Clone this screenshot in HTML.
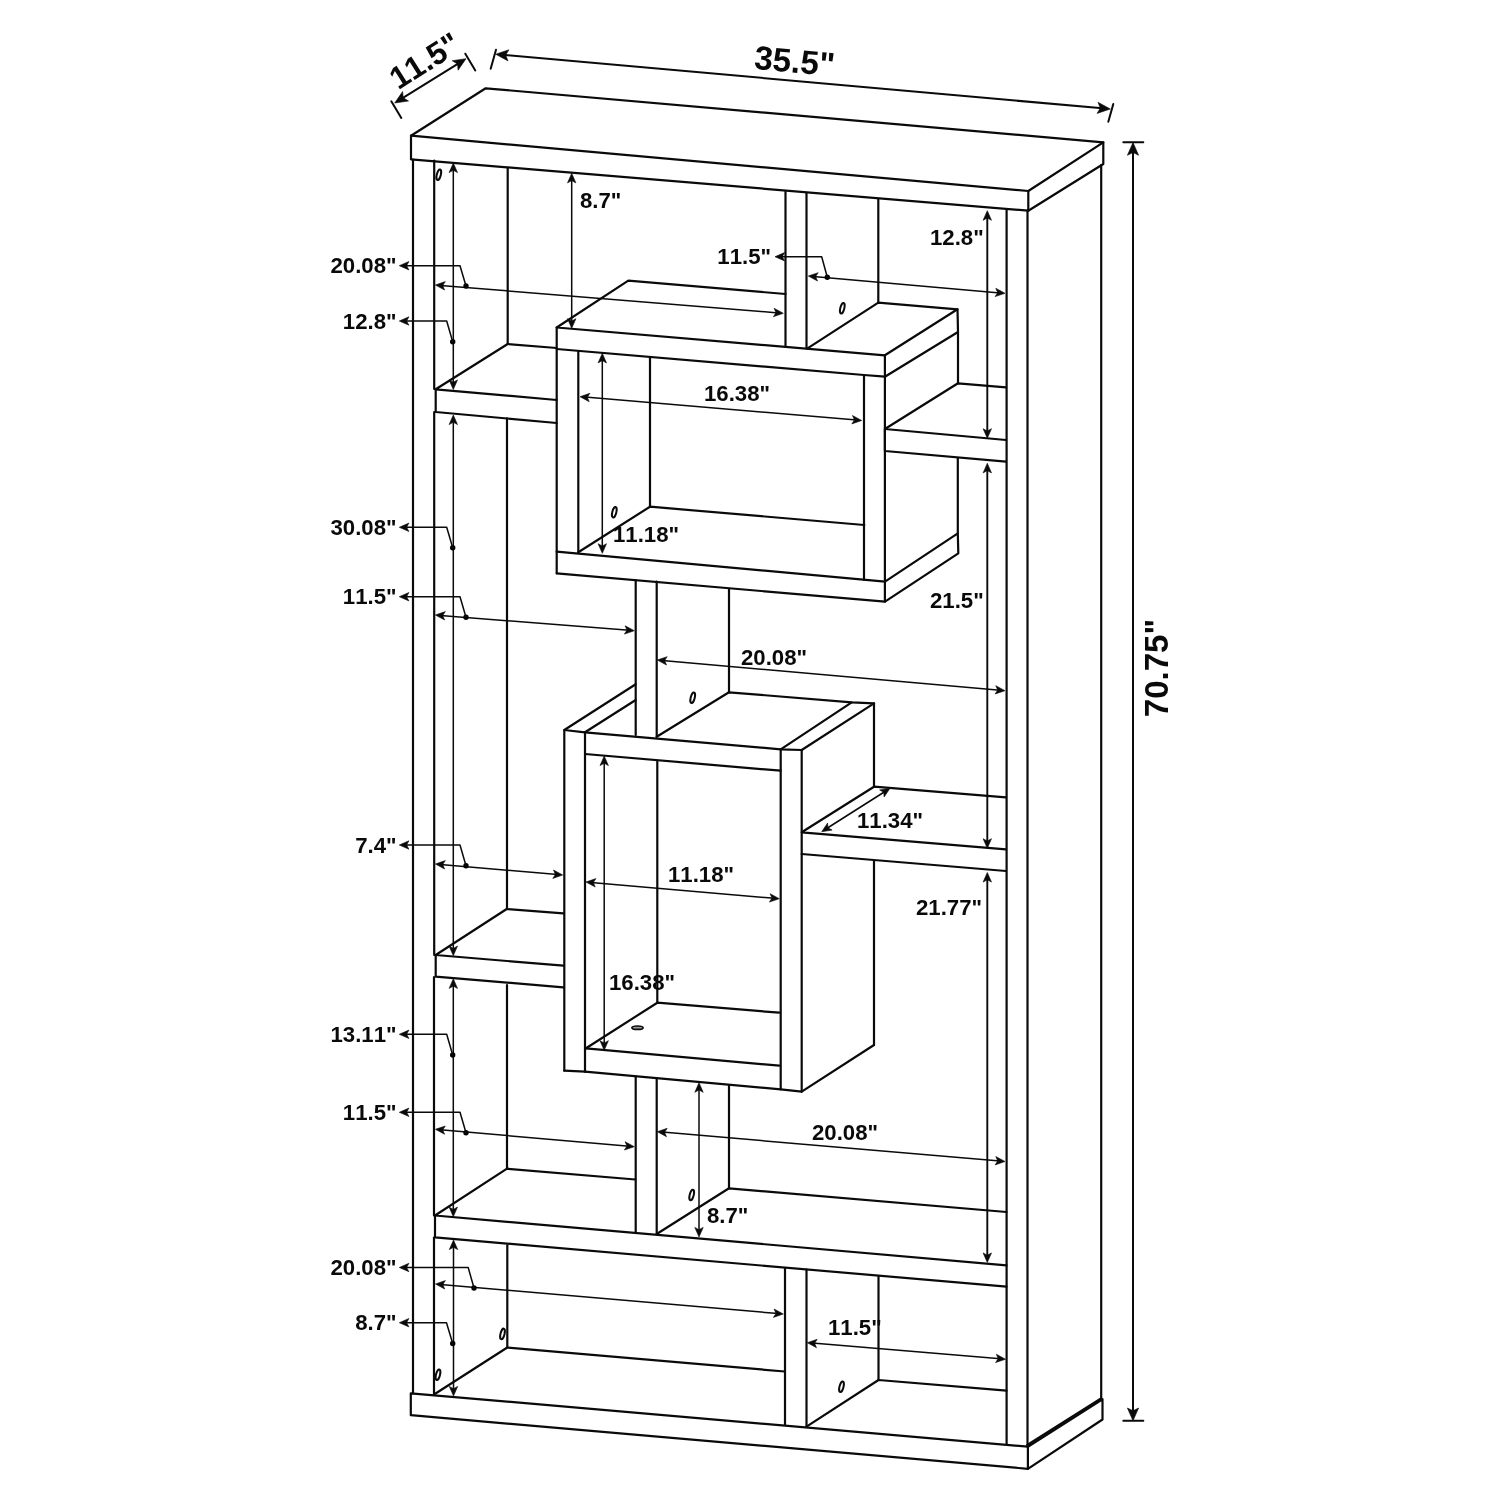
<!DOCTYPE html>
<html lang="en">
<head>
<meta charset="utf-8">
<title>Bookcase dimensions</title>
<style>
html,body{margin:0;padding:0;background:#fff;}
body{width:1500px;height:1500px;overflow:hidden;}
svg{display:block;opacity:0.999;will-change:transform;}
svg line,svg path,svg ellipse{stroke:#0a0a0a;fill:none;stroke-linecap:round;stroke-linejoin:round;}
svg polygon{fill:#0a0a0a;stroke:#0a0a0a;stroke-width:0.6;stroke-linejoin:miter;}
svg text{font-kerning:none;font-family:"Liberation Sans",Arial,Helvetica,sans-serif;font-weight:700;fill:#0a0a0a;}
</style>
</head>
<body>
<svg width="1500" height="1500" viewBox="0 0 1500 1500">
<rect x="0" y="0" width="1500" height="1500" fill="#fff" stroke="none"/>
<path d="M411 135.7 L485.7 88.3 L1103.3 142.3 L1028.3 191 Z" stroke-width="2.2"/>
<path d="M411 135.7 L411 159.3 L1028.3 210.7 L1028.3 191" stroke-width="2.2"/>
<path d="M1028.3 210.7 L1103.3 164 L1103.3 142.3" stroke-width="2.2"/>
<line x1="413" y1="159.5" x2="413" y2="1393.3" stroke-width="2.2"/>
<line x1="434.2" y1="160.5" x2="434.2" y2="389" stroke-width="2.2"/>
<line x1="434.2" y1="412" x2="434.2" y2="955" stroke-width="2.2"/>
<line x1="434" y1="977" x2="434" y2="1215.5" stroke-width="2.2"/>
<line x1="434" y1="1237.5" x2="434" y2="1394" stroke-width="2.2"/>
<line x1="1006.6" y1="209" x2="1006.6" y2="1444.5" stroke-width="2.2"/>
<line x1="1027.5" y1="210.7" x2="1027.5" y2="1446.7" stroke-width="2.2"/>
<line x1="1101.2" y1="165" x2="1101.2" y2="1400" stroke-width="2.2"/>
<path d="M410.8 1393.3 L1027.9 1446.7 L1102.5 1399.2 L1102.5 1419.5 L1027.9 1468.8 L410.8 1415.2 Z" stroke-width="2.2"/>
<line x1="1027.9" y1="1446.7" x2="1027.9" y2="1468.8" stroke-width="2.2"/>
<line x1="1027.3" y1="1445" x2="1101" y2="1398.4" stroke-width="2.2"/>
<line x1="507.7" y1="167.5" x2="507.7" y2="344" stroke-width="2.2"/>
<line x1="785.5" y1="191.7" x2="785.5" y2="346.7" stroke-width="2.2"/>
<line x1="806.5" y1="193.5" x2="806.5" y2="348.3" stroke-width="2.2"/>
<line x1="878.3" y1="199.5" x2="878.3" y2="302.7" stroke-width="2.2"/>
<path d="M507.7 344 L435.7 389.3 L556.7 400" stroke-width="2.2"/>
<path d="M435.7 389.3 L435.7 412 L556.7 423" stroke-width="2.2"/>
<line x1="507.7" y1="344" x2="556.7" y2="348" stroke-width="2.2"/>
<path d="M785.5 294 L628.3 280.7 L556.7 327.5 L884.9 355.3" stroke-width="2.2"/>
<line x1="556.7" y1="327.5" x2="556.7" y2="573.3" stroke-width="2.2"/>
<path d="M556.7 349 L864 375 L884.9 376.7" stroke-width="2.2"/>
<line x1="884.9" y1="355.3" x2="884.9" y2="601.7" stroke-width="2.2"/>
<line x1="864" y1="375" x2="864" y2="579.8" stroke-width="2.2"/>
<line x1="578.3" y1="351.7" x2="578.3" y2="552.3" stroke-width="2.2"/>
<line x1="650" y1="358.3" x2="650" y2="506.7" stroke-width="2.2"/>
<path d="M578.3 552.3 L650 506.7 L864.3 525" stroke-width="2.2"/>
<path d="M556.7 551.7 L885 581.7 L957.8 533.3 L958.3 553.3 L885 601.7 L556.7 573.3" stroke-width="2.2"/>
<path d="M807.5 348.3 L878.3 302.7 L957.5 309.3 L884.9 355.3" stroke-width="2.2"/>
<path d="M957.5 309.3 L958 332 L884.9 376.7" stroke-width="2.2"/>
<line x1="958" y1="332" x2="958" y2="383.3" stroke-width="2.2"/>
<line x1="957.8" y1="458.3" x2="957.8" y2="533.3" stroke-width="2.2"/>
<path d="M1006 387.3 L958 383.3 L884.9 429 L1006 440" stroke-width="2.2"/>
<path d="M884.9 429 L884.9 451 L1006 461.7" stroke-width="2.2"/>
<line x1="635.7" y1="580" x2="635.7" y2="735" stroke-width="2.2"/>
<line x1="656.7" y1="581.7" x2="656.7" y2="736.7" stroke-width="2.2"/>
<line x1="729" y1="589" x2="729" y2="692.3" stroke-width="2.2"/>
<path d="M635.7 684.3 L564.3 730 L585 732.3 L635.7 700" stroke-width="2.2"/>
<path d="M585 732.3 L780.7 749.3 L801.7 750" stroke-width="2.2"/>
<line x1="585" y1="754" x2="780.7" y2="770.7" stroke-width="2.2"/>
<line x1="564.3" y1="730" x2="564.3" y2="1070.7" stroke-width="2.2"/>
<line x1="585" y1="732.3" x2="585" y2="1071.7" stroke-width="2.2"/>
<line x1="564.3" y1="1070.7" x2="585" y2="1071.7" stroke-width="2.2"/>
<path d="M656.7 736.7 L729 692.3 L851.7 702.3 L874 703.3 L801.7 750" stroke-width="2.2"/>
<line x1="780.7" y1="749.3" x2="851.7" y2="702.3" stroke-width="2.2"/>
<line x1="780.7" y1="749.3" x2="780.7" y2="1089.3" stroke-width="2.2"/>
<line x1="801.7" y1="750" x2="801.7" y2="1091.7" stroke-width="2.2"/>
<line x1="874" y1="703.3" x2="874" y2="786.7" stroke-width="2.2"/>
<line x1="874" y1="861" x2="874" y2="1045" stroke-width="2.2"/>
<line x1="657.3" y1="761.7" x2="657.3" y2="1002.7" stroke-width="2.2"/>
<path d="M586 1048.3 L657.3 1002.7 L779.3 1012.7" stroke-width="2.2"/>
<line x1="586" y1="1048.3" x2="779.3" y2="1065.7" stroke-width="2.2"/>
<path d="M585 1071.7 L780.7 1089.3 L801.7 1091.7 L874 1045" stroke-width="2.2"/>
<ellipse cx="637.5" cy="1027.7" rx="5.6" ry="1.7" stroke-width="1.7" style="fill:#9a9a9a"/>
<path d="M1006 797.3 L874 786.7 L801.7 832.3 L1006 849.3" stroke-width="2.2"/>
<line x1="801.7" y1="854" x2="1006" y2="871" stroke-width="2.2"/>
<line x1="507" y1="418.3" x2="507" y2="909" stroke-width="2.2"/>
<path d="M563.3 913.3 L506.7 909 L435.7 955 L563.3 965.7" stroke-width="2.2"/>
<path d="M435.7 955 L435.7 976.7 L563.3 987.3" stroke-width="2.2"/>
<line x1="507" y1="985" x2="507" y2="1169" stroke-width="2.2"/>
<line x1="635.7" y1="1076.7" x2="635.7" y2="1232.3" stroke-width="2.2"/>
<line x1="656.7" y1="1078.3" x2="656.7" y2="1234" stroke-width="2.2"/>
<line x1="729" y1="1085" x2="729" y2="1188.3" stroke-width="2.2"/>
<path d="M635.3 1179.5 L507 1168.7 L435 1215.5 L1006.5 1265.3" stroke-width="2.2"/>
<path d="M435 1215.5 L435 1237.3 L1006.5 1286.7" stroke-width="2.2"/>
<path d="M656.7 1234 L729 1188.3 L1006.5 1212" stroke-width="2.2"/>
<line x1="507.3" y1="1245.3" x2="507.3" y2="1347.5" stroke-width="2.2"/>
<path d="M434.8 1394 L507.3 1347.5 L784.7 1371.5" stroke-width="2.2"/>
<line x1="785" y1="1268" x2="785" y2="1424.8" stroke-width="2.2"/>
<line x1="806.5" y1="1269.5" x2="806.5" y2="1426.7" stroke-width="2.2"/>
<line x1="878.5" y1="1276" x2="878.5" y2="1380" stroke-width="2.2"/>
<path d="M806.5 1426.7 L878.5 1380 L1006.5 1390.7" stroke-width="2.2"/>
<line x1="398.9" y1="100.4" x2="461.8" y2="61.3" stroke-width="2"/>
<polygon points="466,58.7 458.1,70.2 457.5,64 452.2,60.7"/>
<polygon points="394.7,103 402.6,91.5 403.2,97.7 408.5,101"/>
<line x1="391.3" y1="101.3" x2="401.3" y2="118" stroke-width="2"/>
<line x1="465.3" y1="53.7" x2="475.3" y2="70.4" stroke-width="2"/>
<text x="430.5" y="70" font-size="31.5" text-anchor="middle" transform="rotate(-32.3 430.5 70)">11.5"</text>
<line x1="500.7" y1="54.6" x2="1105.3" y2="108.6" stroke-width="2"/>
<polygon points="1110.3,109 1097.1,113.4 1100.3,108.1 1098,102.3"/>
<polygon points="495.7,54.2 508.9,49.8 505.7,55.1 508,60.9"/>
<line x1="496" y1="49.7" x2="490.7" y2="68.7" stroke-width="2"/>
<line x1="1113.3" y1="104" x2="1108.3" y2="121.7" stroke-width="2"/>
<text x="793.5" y="72.5" font-size="33.3" text-anchor="middle" transform="rotate(5.3 793.5 72.5)">35.5"</text>
<line x1="1133" y1="147.5" x2="1133" y2="1415.8" stroke-width="2"/>
<polygon points="1133,1420.8 1127.4,1408 1133,1410.8 1138.6,1408"/>
<polygon points="1133,142.5 1138.6,155.3 1133,152.5 1127.4,155.3"/>
<line x1="1123.3" y1="142.3" x2="1143.3" y2="142.3" stroke-width="2"/>
<line x1="1123.3" y1="1420.8" x2="1143.3" y2="1420.8" stroke-width="2"/>
<text x="1168" y="668" font-size="33" text-anchor="middle" transform="rotate(-90 1168 668)">70.75"</text>
<line x1="453.3" y1="168" x2="453.3" y2="384.5" stroke-width="1.5"/>
<polygon points="453.3,389.5 449.1,379.9 453.3,382.2 457.5,379.9"/>
<polygon points="453.3,163 457.5,172.6 453.3,170.3 449.1,172.6"/>
<line x1="453.3" y1="420" x2="453.3" y2="950.7" stroke-width="1.5"/>
<polygon points="453.3,955.7 449.1,946.1 453.3,948.4 457.5,946.1"/>
<polygon points="453.3,415 457.5,424.6 453.3,422.3 449.1,424.6"/>
<line x1="453.3" y1="983.8" x2="453.3" y2="1211.7" stroke-width="1.5"/>
<polygon points="453.3,1216.7 449.1,1207.1 453.3,1209.4 457.5,1207.1"/>
<polygon points="453.3,978.8 457.5,988.4 453.3,986.1 449.1,988.4"/>
<line x1="453.5" y1="1245" x2="453.5" y2="1391" stroke-width="1.5"/>
<polygon points="453.5,1396 449.3,1386.4 453.5,1388.7 457.7,1386.4"/>
<polygon points="453.5,1240 457.7,1249.6 453.5,1247.3 449.3,1249.6"/>
<line x1="571.7" y1="178.3" x2="571.7" y2="323.3" stroke-width="1.5"/>
<polygon points="571.7,328.3 567.5,318.7 571.7,321 575.9,318.7"/>
<polygon points="571.7,173.3 575.9,182.9 571.7,180.6 567.5,182.9"/>
<text x="580" y="208" font-size="22.2" text-anchor="start">8.7"</text>
<line x1="440.4" y1="285.4" x2="778.3" y2="312.9" stroke-width="1.5"/>
<polygon points="783.3,313.3 773.4,316.7 776,312.7 774.1,308.3"/>
<polygon points="435.4,285 445.3,281.6 442.7,285.6 444.6,290"/>
<circle cx="466" cy="286" r="2.7" fill="#000" stroke="none"/>
<path d="M466 286 L460 265.7 L404.3 265.7" stroke-width="1.5"/>
<polygon points="399.3,265.7 408.9,261.5 406.6,265.7 408.9,269.9"/>
<text x="396.5" y="273" font-size="22.2" text-anchor="end">20.08"</text>
<circle cx="452.7" cy="341.7" r="2.7" fill="#000" stroke="none"/>
<path d="M452.7 341.7 L446.7 321 L404.3 321" stroke-width="1.5"/>
<polygon points="399.3,321 408.9,316.8 406.6,321 408.9,325.2"/>
<text x="396.5" y="328.5" font-size="22.2" text-anchor="end">12.8"</text>
<line x1="813.3" y1="276.4" x2="1000" y2="292.9" stroke-width="1.5"/>
<polygon points="1005,293.3 995.1,296.6 997.7,292.7 995.8,288.3"/>
<polygon points="808.3,276 818.2,272.7 815.6,276.6 817.5,281"/>
<circle cx="827.3" cy="277.3" r="2.7" fill="#000" stroke="none"/>
<path d="M827.3 277.3 L821.7 256.7 L780 256.7" stroke-width="1.5"/>
<polygon points="775,256.7 784.6,252.5 782.3,256.7 784.6,260.9"/>
<text x="771" y="264" font-size="22.2" text-anchor="end">11.5"</text>
<line x1="987.3" y1="215.7" x2="987.3" y2="433.3" stroke-width="1.9"/>
<polygon points="987.3,438.3 983.1,428.7 987.3,431 991.5,428.7"/>
<polygon points="987.3,210.7 991.5,220.3 987.3,218 983.1,220.3"/>
<text x="930" y="245" font-size="22.2" text-anchor="start">12.8"</text>
<line x1="585" y1="397.1" x2="856.7" y2="420.1" stroke-width="1.5"/>
<polygon points="861.7,420.5 851.8,423.9 854.4,419.9 852.5,415.5"/>
<polygon points="580,396.7 589.9,393.3 587.3,397.3 589.2,401.7"/>
<text x="704" y="401" font-size="22.2" text-anchor="start">16.38"</text>
<line x1="602.3" y1="358.3" x2="602.3" y2="548.3" stroke-width="1.5"/>
<polygon points="602.3,553.3 598.1,543.7 602.3,546 606.5,543.7"/>
<polygon points="602.3,353.3 606.5,362.9 602.3,360.6 598.1,362.9"/>
<text x="613" y="542" font-size="22.2" text-anchor="start">11.18"</text>
<circle cx="452.7" cy="547.7" r="2.7" fill="#000" stroke="none"/>
<path d="M452.7 547.7 L446.7 527.3 L404.3 527.3" stroke-width="1.5"/>
<polygon points="399.3,527.3 408.9,523.1 406.6,527.3 408.9,531.5"/>
<text x="396.5" y="535" font-size="22.2" text-anchor="end">30.08"</text>
<line x1="440.4" y1="615.4" x2="629.3" y2="630.3" stroke-width="1.5"/>
<polygon points="634.3,630.7 624.4,634.1 627,630.1 625.1,625.8"/>
<polygon points="435.4,615 445.3,611.6 442.7,615.6 444.6,619.9"/>
<circle cx="466" cy="617.3" r="2.7" fill="#000" stroke="none"/>
<path d="M466 617.3 L460 596.7 L404.3 596.7" stroke-width="1.5"/>
<polygon points="399.3,596.7 408.9,592.5 406.6,596.7 408.9,600.9"/>
<text x="396.5" y="604" font-size="22.2" text-anchor="end">11.5"</text>
<line x1="662.3" y1="660.4" x2="1000" y2="690.3" stroke-width="1.5"/>
<polygon points="1005,690.7 995.1,694 997.7,690.1 995.8,685.7"/>
<polygon points="657.3,660 667.2,656.7 664.6,660.6 666.5,665"/>
<text x="741" y="665" font-size="22.2" text-anchor="start">20.08"</text>
<line x1="987.3" y1="468.3" x2="987.3" y2="843.3" stroke-width="1.9"/>
<polygon points="987.3,848.3 983.1,838.7 987.3,841 991.5,838.7"/>
<polygon points="987.3,463.3 991.5,472.9 987.3,470.6 983.1,472.9"/>
<text x="930" y="608" font-size="22.2" text-anchor="start">21.5"</text>
<line x1="825.9" y1="829" x2="885.8" y2="791" stroke-width="1.5"/>
<polygon points="890,788.3 884.1,797 883.8,792.2 879.6,789.9"/>
<polygon points="821.7,831.7 827.6,823 827.9,827.8 832.1,830.1"/>
<text x="857" y="828" font-size="22.2" text-anchor="start">11.34"</text>
<line x1="440.4" y1="864.4" x2="557.7" y2="874.6" stroke-width="1.5"/>
<polygon points="562.7,875 552.8,878.4 555.4,874.4 553.5,870"/>
<polygon points="435.4,864 445.3,860.6 442.7,864.6 444.6,869"/>
<circle cx="466" cy="865.7" r="2.7" fill="#000" stroke="none"/>
<path d="M466 865.7 L460 845 L404.3 845" stroke-width="1.5"/>
<polygon points="399.3,845 408.9,840.8 406.6,845 408.9,849.2"/>
<text x="396.5" y="852.5" font-size="22.2" text-anchor="end">7.4"</text>
<line x1="591" y1="882.4" x2="774.3" y2="898.3" stroke-width="1.5"/>
<polygon points="779.3,898.7 769.4,902.1 772,898.1 770.1,893.7"/>
<polygon points="586,882 595.9,878.6 593.3,882.6 595.2,887"/>
<text x="668" y="882" font-size="22.2" text-anchor="start">11.18"</text>
<line x1="604.2" y1="761" x2="604.2" y2="1045.3" stroke-width="1.5"/>
<polygon points="604.2,1050.3 600,1040.7 604.2,1043 608.4,1040.7"/>
<polygon points="604.2,756 608.4,765.6 604.2,763.3 600,765.6"/>
<text x="609" y="990" font-size="22.2" text-anchor="start">16.38"</text>
<line x1="987.3" y1="877.5" x2="987.3" y2="1257.5" stroke-width="1.9"/>
<polygon points="987.3,1262.5 983.1,1252.9 987.3,1255.2 991.5,1252.9"/>
<polygon points="987.3,872.5 991.5,882.1 987.3,879.8 983.1,882.1"/>
<text x="916" y="915" font-size="22.2" text-anchor="start">21.77"</text>
<circle cx="452.7" cy="1055" r="2.7" fill="#000" stroke="none"/>
<path d="M452.7 1055 L446.7 1034.3 L404.3 1034.3" stroke-width="1.5"/>
<polygon points="399.3,1034.3 408.9,1030.1 406.6,1034.3 408.9,1038.5"/>
<text x="396.5" y="1042" font-size="22.2" text-anchor="end">13.11"</text>
<line x1="440.4" y1="1129.7" x2="629.3" y2="1146.3" stroke-width="1.5"/>
<polygon points="634.3,1146.7 624.4,1150 627,1146.1 625.1,1141.7"/>
<polygon points="435.4,1129.3 445.3,1126 442.7,1129.9 444.6,1134.3"/>
<circle cx="466" cy="1132.7" r="2.7" fill="#000" stroke="none"/>
<path d="M466 1132.7 L460 1112.3 L404.3 1112.3" stroke-width="1.5"/>
<polygon points="399.3,1112.3 408.9,1108.1 406.6,1112.3 408.9,1116.5"/>
<text x="396.5" y="1120" font-size="22.2" text-anchor="end">11.5"</text>
<line x1="662.3" y1="1132.1" x2="1000" y2="1161.1" stroke-width="1.5"/>
<polygon points="1005,1161.5 995.1,1164.9 997.7,1160.9 995.8,1156.5"/>
<polygon points="657.3,1131.7 667.2,1128.3 664.6,1132.3 666.5,1136.7"/>
<text x="812" y="1140" font-size="22.2" text-anchor="start">20.08"</text>
<line x1="699" y1="1087.7" x2="699" y2="1232" stroke-width="1.5"/>
<polygon points="699,1237 694.8,1227.4 699,1229.7 703.2,1227.4"/>
<polygon points="699,1082.7 703.2,1092.3 699,1090 694.8,1092.3"/>
<text x="707" y="1223" font-size="22.2" text-anchor="start">8.7"</text>
<line x1="440.5" y1="1284.4" x2="778.3" y2="1313.6" stroke-width="1.5"/>
<polygon points="783.3,1314 773.4,1317.4 776,1313.4 774.1,1309"/>
<polygon points="435.5,1284 445.4,1280.6 442.8,1284.6 444.7,1289"/>
<circle cx="474" cy="1288" r="2.7" fill="#000" stroke="none"/>
<path d="M474 1288 L468.2 1267.5 L404.3 1267.5" stroke-width="1.5"/>
<polygon points="399.3,1267.5 408.9,1263.3 406.6,1267.5 408.9,1271.7"/>
<text x="396.5" y="1275" font-size="22.2" text-anchor="end">20.08"</text>
<circle cx="452.7" cy="1343.5" r="2.7" fill="#000" stroke="none"/>
<path d="M452.7 1343.5 L446.5 1322.7 L404.3 1322.7" stroke-width="1.5"/>
<polygon points="399.3,1322.7 408.9,1318.5 406.6,1322.7 408.9,1326.9"/>
<text x="396.5" y="1330" font-size="22.2" text-anchor="end">8.7"</text>
<line x1="812.3" y1="1343.1" x2="1000.5" y2="1358.8" stroke-width="1.5"/>
<polygon points="1005.5,1359.2 995.6,1362.6 998.2,1358.6 996.3,1354.2"/>
<polygon points="807.3,1342.7 817.2,1339.3 814.6,1343.3 816.5,1347.7"/>
<text x="828" y="1335" font-size="22.2" text-anchor="start">11.5"</text>
<ellipse cx="438.8" cy="174.7" rx="2" ry="5.4" transform="rotate(14 438.8 174.7)" stroke-width="2"/>
<ellipse cx="842.3" cy="308.3" rx="2" ry="5.4" transform="rotate(14 842.3 308.3)" stroke-width="2"/>
<ellipse cx="614.3" cy="512.3" rx="2" ry="5.4" transform="rotate(14 614.3 512.3)" stroke-width="2"/>
<ellipse cx="692.7" cy="697.7" rx="2" ry="5.4" transform="rotate(14 692.7 697.7)" stroke-width="2"/>
<ellipse cx="691.7" cy="1195" rx="2" ry="5.4" transform="rotate(14 691.7 1195)" stroke-width="2"/>
<ellipse cx="502.5" cy="1333.9" rx="2" ry="5.4" transform="rotate(14 502.5 1333.9)" stroke-width="2"/>
<ellipse cx="438" cy="1374.7" rx="2" ry="5.4" transform="rotate(14 438 1374.7)" stroke-width="2"/>
<ellipse cx="841.5" cy="1386.7" rx="2" ry="5.4" transform="rotate(14 841.5 1386.7)" stroke-width="2"/>
</svg>
</body>
</html>
